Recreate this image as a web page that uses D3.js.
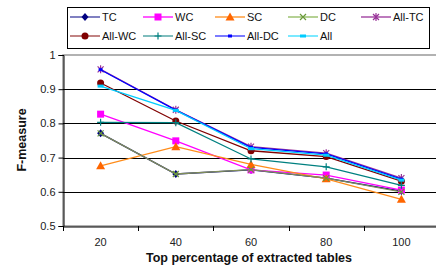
<!DOCTYPE html>
<html><head><meta charset="utf-8">
<script src="https://cdn.jsdelivr.net/npm/d3@7"></script>
<style>body{margin:0;background:#fff}svg{display:block;font-family:"Liberation Sans",Arial,sans-serif}</style>
</head><body><svg id="c" width="436" height="280"></svg>
<script>
const categories = ["20","40","60","80","100"];
const yTicks = [0.5,0.6,0.7,0.8,0.9,1];
const seriesNames = ["TC","WC","SC","DC","All-TC","All-WC","All-SC","All-DC","All"];
const TC     = [0.771,0.652,0.664,0.640,0.602];
const WC     = [0.827,0.749,0.664,0.649,0.605];
const SC     = [0.676,0.732,0.680,0.638,0.578];
const DC     = [0.771,0.652,0.665,0.640,0.600];
const AllTC  = [0.958,0.840,0.732,0.713,0.640];
const AllWC  = [0.918,0.807,0.720,0.703,0.631];
const AllSC  = [0.803,0.802,0.696,0.673,0.619];
const AllDC  = [0.957,0.839,0.730,0.711,0.637];
const All    = [0.909,0.838,0.726,0.707,0.634];
const values = [TC,WC,SC,DC,AllTC,AllWC,AllSC,AllDC,All];
const lineColors = ["#000080","#FF00FF","#FF8C1A","#7F8C5A","#993399","#800000","#008080","#0000FF","#00CCFF"];
const legendLineColors = ["#3B3BA0","#FF00FF","#FF8C1A","#8DB85A","#993399","#A04040","#3A9A9A","#3333FF","#33DDFF"];
const markerColors = ["#000080","#FF00FF","#FF6600","#6A9A3A","#993399","#800000","#008080","#0000FF","#00CCFF"];
const markers = ["diamond","square","triangle","x","star","circle","plus","dash","dashwide"];

const svg = d3.select("#c");
const L=63, R=439, T=55, B=226;
const x = d3.scaleBand().domain(categories).range([L,R]);
const y = d3.scaleLinear().domain([0.5,1]).range([B,T]);

// plot border
svg.append("rect").attr("x",L).attr("y",T).attr("width",R-L).attr("height",B-T)
  .attr("fill","none").attr("stroke","#999").attr("stroke-width",1.5);
// gridlines
svg.append("g").selectAll("line").data(yTicks.filter(v=>v>0.5&&v<1)).join("line")
  .attr("x1",L).attr("x2",R).attr("y1",d=>Math.round(y(d))+0.5).attr("y2",d=>Math.round(y(d))+0.5)
  .attr("stroke","#000").attr("stroke-width",1);

// y axis
const ya = svg.append("g").attr("transform",`translate(${L+0.5},0)`)
  .call(d3.axisLeft(y).tickValues(yTicks).tickFormat(d3.format("")).tickSize(5).tickPadding(3));
ya.select(".domain").attr("stroke","#000");
ya.selectAll("text").attr("font-size",11).attr("fill","#222").attr("font-family","Liberation Sans, Arial");
// x axis
const xa = svg.append("g").attr("transform",`translate(0,${B+0.5})`)
  .call(d3.axisBottom(x).tickSize(0).tickPadding(12));
xa.select(".domain").attr("stroke","#000");
xa.selectAll("text").attr("font-size",11).attr("fill","#222").attr("font-family","Liberation Sans, Arial");
svg.append("g").selectAll("line").data(categories).join("line")
  .attr("x1",d=>Math.round(x(d))+0.5).attr("x2",d=>Math.round(x(d))+0.5)
  .attr("y1",B).attr("y2",B+5).attr("stroke","#000");

// titles
svg.append("text").attr("x",249).attr("y",262).attr("text-anchor","middle")
  .attr("font-size",12.5).attr("font-weight","bold").attr("fill","#111").text("Top percentage of extracted tables");
svg.append("text").attr("transform","translate(26,140) rotate(-90)").attr("text-anchor","middle")
  .attr("font-size",12.5).attr("font-weight","bold").attr("fill","#111").text("F-measure");

function drawMarker(g, type, cx, cy, col){
  const s=3.5;
  if(type==="diamond") g.append("path").attr("d",`M${cx},${cy-s-0.5}L${cx+s},${cy}L${cx},${cy+s+0.5}L${cx-s},${cy}Z`).attr("fill",col);
  else if(type==="square") g.append("rect").attr("x",cx-3.5).attr("y",cy-3.5).attr("width",7).attr("height",7).attr("fill",col);
  else if(type==="triangle") g.append("path").attr("d",`M${cx},${cy-4.5}L${cx+4.5},${cy+3.5}L${cx-4.5},${cy+3.5}Z`).attr("fill",col);
  else if(type==="x") g.append("path").attr("d",`M${cx-3},${cy-3}L${cx+3},${cy+3}M${cx-3},${cy+3}L${cx+3},${cy-3}`).attr("stroke",col).attr("stroke-width",1.2);
  else if(type==="star") g.append("path").attr("d",`M${cx-3},${cy-3}L${cx+3},${cy+3}M${cx-3},${cy+3}L${cx+3},${cy-3}M${cx},${cy-4}L${cx},${cy+4}`).attr("stroke",col).attr("stroke-width",1.2);
  else if(type==="circle") g.append("circle").attr("cx",cx).attr("cy",cy).attr("r",3.5).attr("fill",col);
  else if(type==="plus") g.append("path").attr("d",`M${cx-3.5},${cy}L${cx+3.5},${cy}M${cx},${cy-3.5}L${cx},${cy+3.5}`).attr("stroke",col).attr("stroke-width",1.2);
  else if(type==="dash") g.append("rect").attr("x",cx-2).attr("y",cy-1.5).attr("width",4).attr("height",3).attr("fill",col);
  else if(type==="dashwide") g.append("rect").attr("x",cx-3).attr("y",cy-1.5).attr("width",6).attr("height",3).attr("fill",col);
}

const line = d3.line().x((d,i)=>x(categories[i])+x.bandwidth()/2).y(d=>y(d));
const plot = svg.append("g");
values.forEach((vals,k)=>{
  const g = plot.append("g");
  g.append("path").attr("d",line(vals)).attr("fill","none").attr("stroke",lineColors[k]).attr("stroke-width",1.3);
  vals.forEach((v,i)=>drawMarker(g, markers[k], x(categories[i])+x.bandwidth()/2, y(v), markerColors[k]));
});

// legend
const lg = svg.append("g");
lg.append("rect").attr("x",67.5).attr("y",7.5).attr("width",362).attr("height",41)
  .attr("fill","#fff").attr("stroke","#000").attr("stroke-width",1);
const colX = [70,143,215,288,361];
seriesNames.forEach((name,k)=>{
  const row = k<5?0:1, col = k<5?k:k-5;
  const lx = colX[col], ly = row===0?17:36;
  lg.append("line").attr("x1",lx).attr("x2",lx+30).attr("y1",ly).attr("y2",ly)
    .attr("stroke",legendLineColors[k]).attr("stroke-width",1.3);
  drawMarker(lg, markers[k], lx+15, ly, markerColors[k]);
  lg.append("text").attr("x",lx+32).attr("y",ly+4).attr("font-size",11).attr("fill","#111").text(name);
});
</script></body></html>
